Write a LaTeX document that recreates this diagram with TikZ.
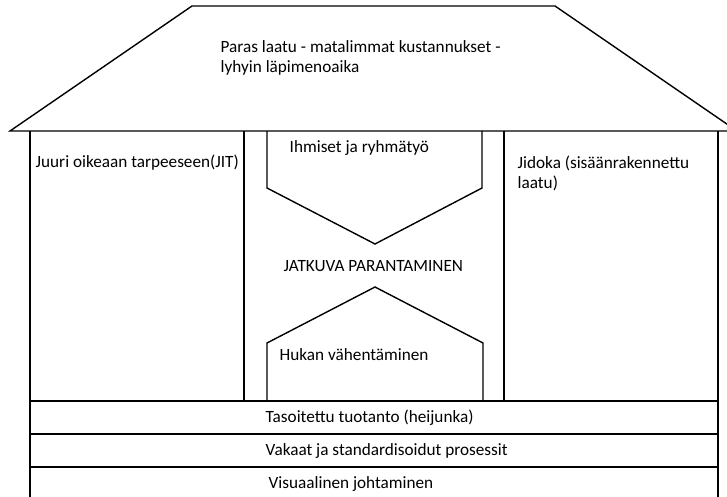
\documentclass[tikz,border=0pt]{standalone}
\usepackage{fontspec}
\setmainfont{Carlito}
\begin{document}
\begin{tikzpicture}[x=1pt, y=-1pt, line width=1.4pt,
    lbl/.style={anchor=west, inner sep=0pt, align=left, font=\fontsize{17.2}{20.5}\selectfont}]
    \useasboundingbox (0, 0) rectangle (727, 497);
    \clip (0, 0) rectangle (727, 497);
    % katto
    \draw (10, 131) -- (192, 6) -- (555, 6) -- (737, 131) -- cycle;
    % pilarit ja perusta
    \draw (30, 131) -- (30, 497)  (718, 131) -- (718, 497)
          (244, 131) -- (244, 401)  (504, 131) -- (504, 401)
          (30, 401) -- (718, 401)
          (30, 434) -- (718, 434)
          (30, 467) -- (718, 467);
    \draw (267, 131) -- (267, 188) -- (375, 244) -- (482, 188) -- (482, 131);
    \draw (267, 401) -- (267, 343) -- (375, 287) -- (483, 343) -- (483, 401);
    \node (roof) [lbl] at (220, 58) {Paras laatu - matalimmat kustannukset -\\lyhyin läpimenoaika};
    \node (jit) [lbl] at (35, 163) {Juuri oikeaan tarpeeseen(JIT)};
    \node (people) [lbl] at (289, 148) {Ihmiset ja ryhmätyö};
    \node (kaizen) [lbl] at (283, 266) {JATKUVA PARANTAMINEN};
    \node (jidoka) [lbl] at (517, 173.5) {Jidoka (sisäänrakennettu\\laatu)};
    \node (waste) [lbl] at (279, 355) {Hukan vähentäminen};
    \node (heijunka) [lbl] at (265, 418) {Tasoitettu tuotanto (heijunka)};
    \node (std) [lbl] at (265, 451) {Vakaat ja standardisoidut prosessit};
    \node (visual) [lbl] at (268, 484) {Visuaalinen johtaminen};
\end{tikzpicture}
\end{document}
